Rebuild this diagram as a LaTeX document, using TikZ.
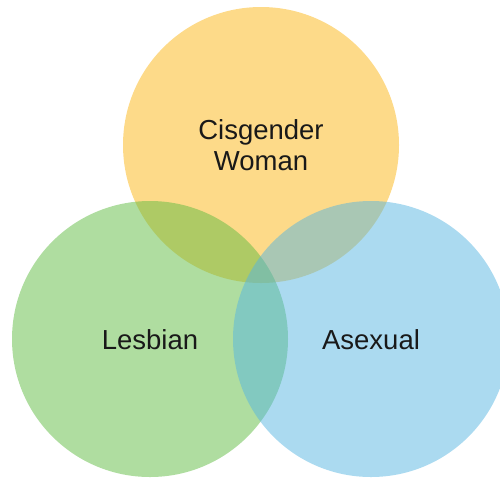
\documentclass[tikz,border=0pt]{standalone}
\usepackage{fontspec}
\setmainfont{Liberation Sans}
\definecolor{corange}{RGB}{251,181,20}
\definecolor{cgreen}{RGB}{95,187,65}
\definecolor{cblue}{RGB}{87,181,225}
\definecolor{ctext}{RGB}{25,25,25}
\tikzset{
  venn/.style={circle, minimum size=276pt, inner sep=0pt, fill opacity=0.5, draw=none},
  lbl/.style={text=ctext, font=\fontsize{27.5}{31}\selectfont, align=center, inner sep=0pt}
}
\begin{document}
\begin{tikzpicture}[x=1pt,y=-1pt]
\useasboundingbox (0,0) rectangle (500,477);
\node[venn, fill=corange] (top) at (261,145) {};
\node[venn, fill=cgreen] (left) at (150,339) {};
\node[venn, fill=cblue] (right) at (371,339) {};
\node[lbl, anchor=base] (tw) at (261,139) {Cisgender};
\node[lbl, anchor=base] (tw2) at (261,170) {Woman};
\node[lbl, anchor=base] (tl) at (150,349) {Lesbian};
\node[lbl, anchor=base] (tr) at (371,349) {Asexual};
\end{tikzpicture}
\end{document}
